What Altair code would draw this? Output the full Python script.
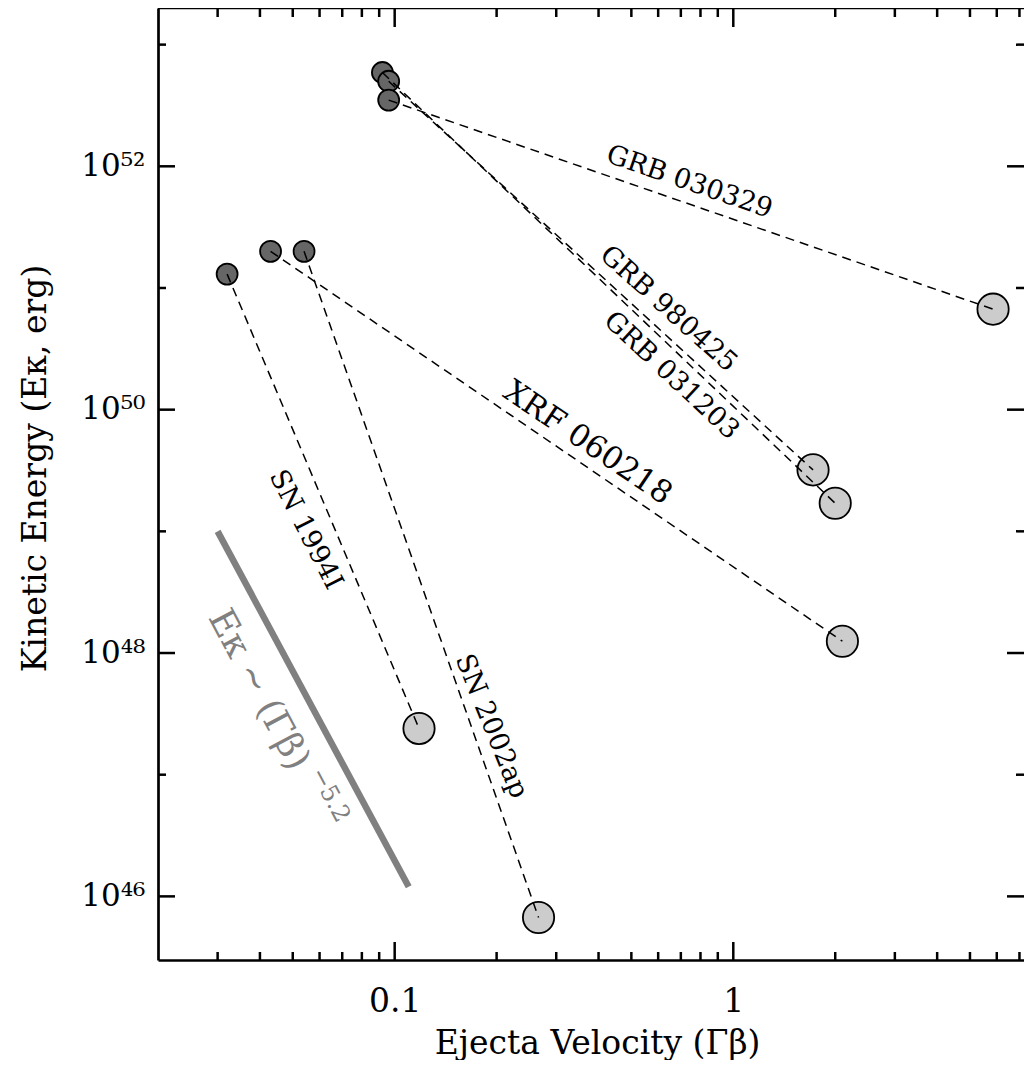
import altair as alt
import pandas as pd

# ---------------- data ----------------
objects = ["GRB 031203", "GRB 980425", "GRB 030329", "XRF 060218", "SN 1994I", "SN 2002ap"]
slow_velocity = [0.092, 0.096, 0.096, 0.043, 0.032, 0.054]
slow_energy = [5.9e52, 5.0e52, 3.5e52, 2.0e51, 1.3e51, 2.0e51]
fast_velocity = [2.0, 1.72, 5.85, 2.10, 0.118, 0.266]
fast_energy = [1.7e49, 3.2e49, 6.7e50, 1.25e48, 2.4e47, 6.7e45]

label_text = ["GRB 030329", "GRB 980425", "GRB 031203", "XRF 060218",
              "SN 1994I", "SN 2002ap", "Eᴋ ~ (Γβ)", "−5.2"]
label_velocity = [0.742, 0.643, 0.656, 0.371, 0.0546, 0.193, 0.0397, 0.0643]
label_energy = [7.4e51, 6.7e50, 1.9e50, 5.3e49, 1.03e49, 2.5e47, 5.0e47, 6.8e46]

law_velocity = [0.03, 0.11]
law_energy = [1.0e49, 1.2e46]

x_major = [0.1, 1]
x_minor = [0.03, 0.04, 0.05, 0.06, 0.07, 0.08, 0.09,
           0.2, 0.3, 0.4, 0.5, 0.6, 0.7, 0.8, 0.9,
           2, 3, 4, 5, 6, 7]
y_major = [1e46, 1e48, 1e50, 1e52]
y_minor = [1e47, 1e49, 1e51, 1e53]

# ---------------- layout ----------------
FONT = "DejaVu Serif"
W, H = 866, 952
xs = alt.Scale(type="log", domain=[0.02, 7.22], nice=False)
ys = alt.Scale(type="log", domain=[3e45, 2e53], nice=False)

slow_df = pd.DataFrame({"name": objects, "v": slow_velocity, "E": slow_energy})
fast_df = pd.DataFrame({"name": objects, "v": fast_velocity, "E": fast_energy})
seg_df = pd.concat([slow_df, fast_df], ignore_index=True)
law_df = pd.DataFrame({"v": law_velocity, "E": law_energy})

x_axis = alt.Axis(values=x_major, labelExpr="datum.value < 0.5 ? '0.1' : '1'",
                  ticks=False, tickSize=0, grid=False, domainColor="black", domainWidth=2.7,
                  labelFont=FONT, labelFontSize=33, labelColor="black", labelPadding=25,
                  labelFlush=False,
                  title="Ejecta Velocity (Γβ)", titleFont=FONT, titleFontSize=33,
                  titleFontWeight="normal", titleColor="black", titleX=439, titleY=83,
                  titleBaseline="middle", titleAlign="center")
y_axis = alt.Axis(values=y_major,
                  labelExpr="datum.value < 1e47 ? '10⁴⁶' : datum.value < 1e49 ? '10⁴⁸' : datum.value < 1e51 ? '10⁵⁰' : '10⁵²'",
                  ticks=False, tickSize=0, grid=False, domainColor="black", domainWidth=2.7,
                  labelFont=FONT, labelFontSize=31, labelColor="black", labelPadding=13,
                  labelBaseline="middle", labelFlush=False,
                  title="Kinetic Energy (Eᴋ, erg)", titleFont=FONT, titleFontSize=33,
                  titleFontWeight="normal", titleColor="black", titleX=-123, titleY=460,
                  titleAngle=-90, titleBaseline="middle", titleAlign="center")

X0 = lambda f="v": alt.X(f"{f}:Q", scale=xs, axis=x_axis)
Y0 = lambda f="E": alt.Y(f"{f}:Q", scale=ys, axis=y_axis)

law = alt.Chart(law_df).mark_line(color="#808080", strokeWidth=6.5).encode(x=X0(), y=Y0())

dark = alt.Chart(slow_df).mark_circle(color="#666666", stroke="black", strokeWidth=1.8,
                                      opacity=1, size=440).encode(x=X0(), y=Y0())
light = alt.Chart(fast_df).mark_circle(color="#cccccc", stroke="black", strokeWidth=1.8,
                                       opacity=1, size=980).encode(x=X0(), y=Y0())
segs = alt.Chart(seg_df).mark_line(color="black", strokeWidth=1.5, strokeDash=[9, 6]).encode(
    x=X0(), y=Y0(), detail="name:N")

TICK_W = 2.5
def tick_layer(values, channel, pos, pos2):
    df = pd.DataFrame({"t": values})
    m = alt.Chart(df).mark_rule(color="black", strokeWidth=TICK_W)
    if channel == "x":
        return m.encode(x=X0("t"), y=alt.value(pos), y2=alt.value(pos2))
    return m.encode(y=Y0("t"), x=alt.value(pos), x2=alt.value(pos2))

ticks = [
    tick_layer(x_major, "x", H, H - 18), tick_layer(x_minor, "x", H, H - 8),
    tick_layer(x_major, "x", 0, 19), tick_layer(x_minor, "x", 0, 9),
    tick_layer(y_major, "y", 0, 17), tick_layer(y_minor, "y", 0, 8),
    tick_layer(y_major, "y", W, W - 17), tick_layer(y_minor, "y", W, W - 8),
]
top_frame = alt.Chart(pd.DataFrame({"a": [0]})).mark_rule(color="black", strokeWidth=2.7).encode(
    x=alt.value(0), x2=alt.value(W), y=alt.value(0))

label_styles = [  # angle, size, color
    (19, 27, "black"), (42, 27, "black"), (43, 27, "black"), (34, 31, "black"),
    (63, 27, "black"), (68, 27, "black"), (62, 36, "#808080"), (62, 24, "#808080"),
]
labels = []
for i, (ang, sz, col) in enumerate(label_styles):
    df = pd.DataFrame({"v": [label_velocity[i]], "E": [label_energy[i]], "t": [label_text[i]]})
    labels.append(alt.Chart(df).mark_text(angle=ang, fontSize=sz, font=FONT, color=col,
                                          align="center", baseline="middle").encode(
        x=X0(), y=Y0(), text="t:N"))

chart = alt.layer(law, dark, light, segs, *ticks, top_frame, *labels).properties(
    width=W, height=H,
    padding={"left": 150, "top": 0, "right": 0, "bottom": 100},
    autosize="none",
).configure_view(stroke=None)

chart.save("out.html", embed_options={"renderer": "svg", "actions": False})
